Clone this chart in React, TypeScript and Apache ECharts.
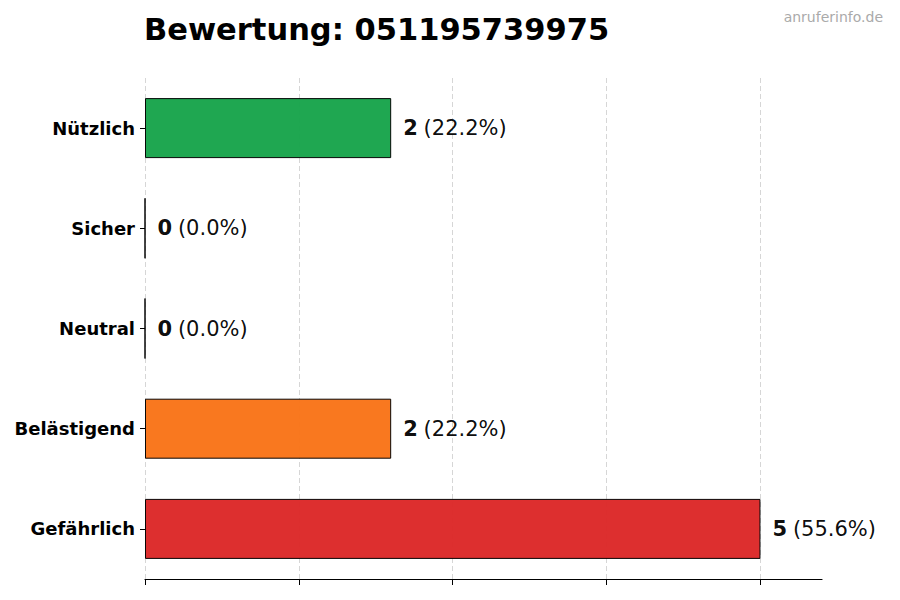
import { useEffect, useRef } from "react";
import * as echarts from "echarts";

const categories = ["Nützlich", "Sicher", "Neutral", "Belästigend", "Gefährlich"];
const counts = [2, 0, 0, 2, 5];
const barColors = ["#16a34a", "#9ca3af", "#6b7280", "#f97316", "#dc2626"];
const tickValues = [0, 1.25, 2.5, 3.75, 5];

const titleText = "Bewertung: 051195739975";
const watermark = "anruferinfo.de";

const FONT = "DejaVu Sans";

export default function App() {
  const chartRef = useRef<HTMLDivElement>(null);

  useEffect(() => {
    if (!chartRef.current) return;
    const chart = echarts.init(chartRef.current, undefined, { renderer: "svg" });

    const total = counts.reduce((a, b) => a + b, 0);

    chart.setOption({
      animation: false,
      textStyle: { fontFamily: FONT },
      title: {
        text: titleText,
        left: 139,
        top: 9,
        textStyle: {
          fontFamily: FONT,
          fontSize: 30.5,
          fontWeight: "bold",
          color: "#000000",
        },
      },
      graphic: [
        {
          type: "text",
          right: 17,
          top: 10,
          style: {
            text: watermark,
            fontFamily: FONT,
            fontSize: 14,
            fill: "#aaaaaa",
          },
        },
      ],
      grid: {
        left: 145,
        right: 78,
        top: 78,
        bottom: 21,
        containLabel: false,
      },
      xAxis: {
        type: "value",
        min: 0,
        max: 5.5,
        interval: 1.25,
        axisLine: { show: true, lineStyle: { color: "#000000", width: 1.2 } },
        axisTick: {
          show: true,
          length: 6,
          inside: false,
          customValues: tickValues,
          lineStyle: { color: "#000000", width: 1 },
        },
        axisLabel: { show: false },
        splitLine: {
          show: true,
          lineStyle: { color: "#cccccc", type: [5, 3], width: 0.8 },
        },
      },
      yAxis: {
        type: "category",
        data: categories,
        inverse: true,
        axisLine: { show: false },
        axisTick: {
          show: true,
          alignWithLabel: true,
          length: 5,
          lineStyle: { color: "#000000" },
        },
        axisLabel: {
          margin: 10,
          fontFamily: FONT,
          fontSize: 18,
          fontWeight: "bold",
          color: "#000000",
        },
        splitLine: { show: false },
      },
      series: [
        {
          type: "bar",
          barWidth: 60,
          data: counts.map((v, i) => ({
            value: v,
            itemStyle: {
              color: barColors[i],
              opacity: 0.96,
              borderColor: "#000000",
              borderWidth: 1,
            },
          })),
          label: {
            show: true,
            position: "right",
            distance: 12,
            formatter: (p: { value: number }) =>
              `{b|${p.value}} {n|(${((p.value / total) * 100).toFixed(1)}%)}`,
            rich: {
              b: {
                fontFamily: FONT,
                fontSize: 21,
                fontWeight: "bold",
                color: "#000000",
              },
              n: {
                fontFamily: FONT,
                fontSize: 21,
                color: "#000000",
                padding: [0, 0, 0, 2],
              },
            },
          },
        },
      ],
    });

    return () => {
      chart.dispose();
    };
  }, []);

  return <div ref={chartRef} style={{ width: 900, height: 600, margin: -8 }} />;
}
